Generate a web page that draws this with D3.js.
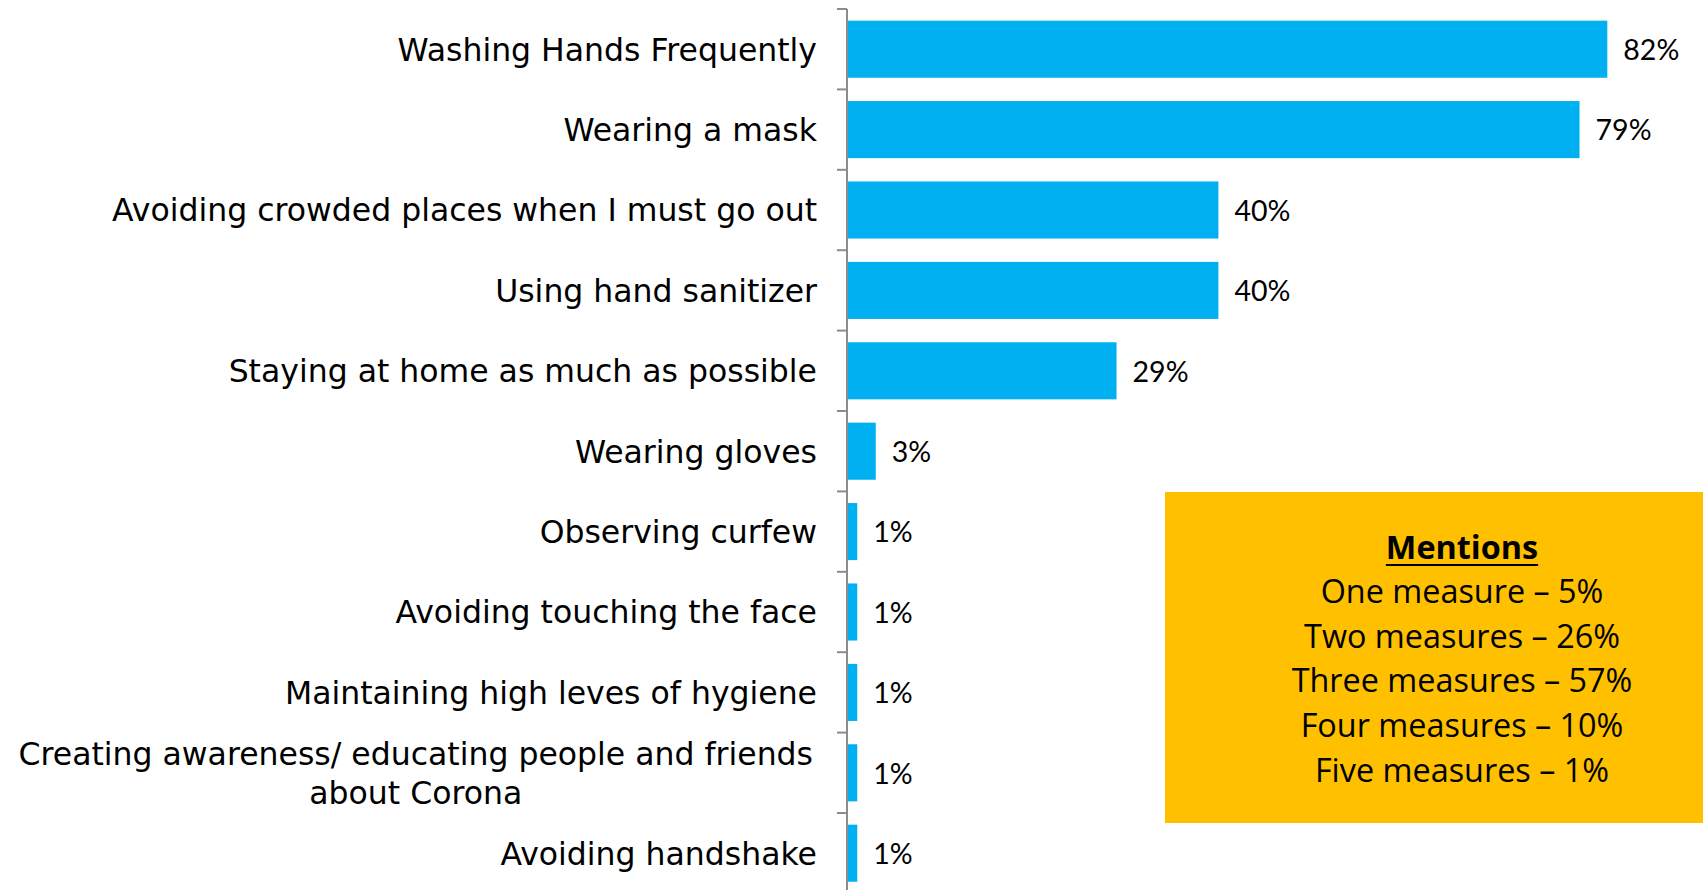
<!DOCTYPE html>
<html>
<head>
<meta charset="utf-8">
<script src="https://cdn.jsdelivr.net/npm/d3@7"></script>
<style>
  html, body { margin: 0; padding: 0; background: #fff; }
  svg { display: block; }
</style>
</head>
<body>
<svg id="chart" width="1703" height="890"></svg>
<script>
// Protective measures taken, share of respondents (%)
const categories = [
  "Washing Hands Frequently",
  "Wearing a mask",
  "Avoiding crowded places when I must go out",
  "Using hand sanitizer",
  "Staying at home as much as possible",
  "Wearing gloves",
  "Observing curfew",
  "Avoiding touching the face",
  "Maintaining high leves of hygiene",
  "Creating awareness/ educating people and friends about Corona",
  "Avoiding handshake"
];
const values = [82, 79, 40, 40, 29, 3, 1, 1, 1, 1, 1];

// Number of measures mentioned
const mentionsTitle = "Mentions";
const mentionLabels = ["One measure", "Two measures", "Three measures", "Four measures", "Five measures"];
const mentionValues = [5, 26, 57, 10, 1];

const svg = d3.select("#chart");
const labelFont = "'DejaVu Sans', sans-serif";
const valueFont = "Lato, 'DejaVu Sans', sans-serif";
const boxFont = "'Open Sans', 'Liberation Sans', sans-serif";

// Measure text at a reference size to pick a font size for a target width
function measure(text, font, size, weight) {
  const t = svg.append("text")
    .attr("font-family", font).attr("font-size", size)
    .attr("font-weight", weight || "normal").text(text);
  const w = t.node().getComputedTextLength();
  t.remove();
  return w;
}
const labelSize = 100 * 705 / measure(categories[2], labelFont, 100);
const valueSize = 100 * 56 / measure("82%", valueFont, 100);
const boxSize = 100 * 341 / measure(mentionLabels[2] + " \u2013 " + mentionValues[2] + "%", boxFont, 100);

const axisX = 847;
const x = d3.scaleLinear().domain([0, 90]).range([axisX + 1, axisX + 1 + 833.4]);
const y = d3.scaleBand().domain(categories).range([9, 9 + 11 * 80.4])
  .paddingInner(0.29).paddingOuter(0.145);

// Bars
svg.append("g").selectAll("rect")
  .data(values)
  .join("rect")
  .attr("x", x(0))
  .attr("y", (d, i) => y(categories[i]))
  .attr("width", d => x(d) - x(0))
  .attr("height", y.bandwidth())
  .attr("fill", "#00B0F0");

// Value labels
svg.append("g").selectAll("text")
  .data(values)
  .join("text")
  .attr("x", d => x(d) + 16)
  .attr("y", (d, i) => y(categories[i]) + y.bandwidth() / 2)
  .attr("dy", "0.38em")
  .attr("font-family", valueFont)
  .attr("font-size", valueSize)
  .attr("fill", "#000")
  .text(d => d + "%");

// Axis: vertical line with ticks on category boundaries
const axisG = svg.append("g").attr("stroke", "#8c8c8c").attr("stroke-width", 2);
axisG.append("line")
  .attr("x1", axisX).attr("x2", axisX)
  .attr("y1", y.range()[0]).attr("y2", y.range()[1]);
d3.range(categories.length + 1).forEach(i => {
  const yy = y.range()[0] + i * y.step();
  axisG.append("line")
    .attr("x1", axisX - 10).attr("x2", axisX)
    .attr("y1", yy).attr("y2", yy);
});

// Category labels, wrapped when wider than the label column
const labelRight = 817;
const maxLabelWidth = 810;
function wrapWords(text) {
  const words = text.split(" ");
  const lines = [];
  let line = "";
  words.forEach(w => {
    const test = line ? line + " " + w : w;
    if (line && measure(test, labelFont, labelSize) > maxLabelWidth) {
      lines.push(line);
      line = w;
    } else {
      line = test;
    }
  });
  if (line) lines.push(line);
  return lines;
}
const lineHeight = 39;
const labelG = svg.append("g")
  .attr("font-family", labelFont)
  .attr("font-size", labelSize)
  .attr("fill", "#000");
categories.forEach(c => {
  const lines = wrapWords(c);
  const cy = y(c) + y.bandwidth() / 2;
  if (lines.length === 1) {
    labelG.append("text")
      .attr("x", labelRight).attr("y", cy).attr("dy", "0.36em")
      .attr("text-anchor", "end").text(c);
  } else {
    const w = d3.max(lines, l => measure(l, labelFont, labelSize));
    const t = labelG.append("text")
      .attr("text-anchor", "middle");
    lines.forEach((l, k) => {
      t.append("tspan")
        .attr("x", labelRight - w / 2 - 4)
        .attr("y", cy + (k - (lines.length - 1) / 2) * lineHeight)
        .attr("dy", "0.36em")
        .text(l);
    });
  }
});

// Mentions box
const box = svg.append("g");
box.append("rect")
  .attr("x", 1165).attr("y", 492)
  .attr("width", 1703 - 1165).attr("height", 823 - 492)
  .attr("fill", "#FFC000");
const boxCx = 1462;
const titleText = box.append("text")
  .attr("x", boxCx).attr("y", 559)
  .attr("text-anchor", "middle")
  .attr("font-family", boxFont)
  .attr("font-size", boxSize)
  .attr("font-weight", "bold")
  .attr("fill", "#000")
  .text(mentionsTitle);
const tw = titleText.node().getComputedTextLength();
box.append("line")
  .attr("x1", boxCx - tw / 2).attr("x2", boxCx + tw / 2)
  .attr("y1", 565).attr("y2", 565)
  .attr("stroke", "#000").attr("stroke-width", 2);
box.selectAll("text.m")
  .data(mentionLabels)
  .join("text")
  .attr("class", "m")
  .attr("x", boxCx)
  .attr("y", (d, i) => 603 + i * 44.7)
  .attr("text-anchor", "middle")
  .attr("font-family", boxFont)
  .attr("font-size", boxSize)
  .attr("fill", "#000")
  .text((d, i) => d + " \u2013 " + mentionValues[i] + "%");
</script>
</body>
</html>
